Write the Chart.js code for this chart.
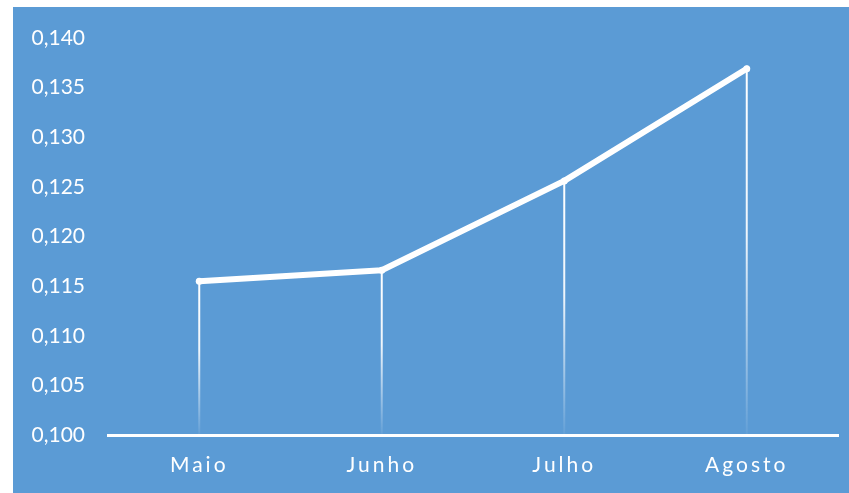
<!DOCTYPE html>
<html>
<head>
<meta charset="utf-8">
<script src="https://cdn.jsdelivr.net/npm/chart.js@4.4.1/dist/chart.umd.min.js"></script>
<style>
  html, body { margin: 0; padding: 0; background: #ffffff; }
  #chartContainer {
    position: absolute;
    left: 13px; top: 7px;
    width: 836px; height: 486px;
    background: #5b9bd5;
  }
</style>
</head>
<body>
<div id="chartContainer"><canvas id="chartCanvas"></canvas></div>
<script>
const months = ['Maio', 'Junho', 'Julho', 'Agosto'];
const rates = [0.1155, 0.1166, 0.1256, 0.1369];
const yTicks = [0.100, 0.105, 0.110, 0.115, 0.120, 0.125, 0.130, 0.135, 0.140];

// vertical lines from each point down to the axis, fading out
const dropLines = {
  id: 'dropLines',
  beforeDatasetsDraw(chart) {
    const ctx = chart.ctx;
    const meta = chart.getDatasetMeta(0);
    const bottom = chart.scales.y.getPixelForValue(yTicks[0]);
    ctx.save();
    meta.data.forEach(pt => {
      const grad = ctx.createLinearGradient(0, pt.y, 0, bottom);
      grad.addColorStop(0, 'rgba(255,255,255,1)');
      grad.addColorStop(0.45, 'rgba(255,255,255,0.9)');
      grad.addColorStop(1, 'rgba(255,255,255,0.05)');
      ctx.strokeStyle = grad;
      ctx.lineWidth = 2;
      ctx.beginPath();
      ctx.moveTo(pt.x, pt.y);
      ctx.lineTo(pt.x, bottom);
      ctx.stroke();
    });
    ctx.restore();
  },
  // x labels are drawn after the datasets (ticks.z: 1), so spacing only hits them
  afterDatasetsDraw(chart) {
    chart.ctx.letterSpacing = '3px';
  },
  afterDraw(chart) {
    chart.ctx.letterSpacing = '0px';
  }
};

const ctx = document.getElementById('chartCanvas').getContext('2d');
const myChart = new Chart(ctx, {
  type: 'line',
  data: {
    labels: months,
    datasets: [{
      data: rates,
      borderColor: '#ffffff',
      backgroundColor: '#ffffff',
      borderWidth: 6,
      borderCapStyle: 'round',
      borderJoinStyle: 'round',
      pointRadius: 3.5,
      pointHoverRadius: 3.5,
      pointBorderWidth: 0,
      tension: 0
    }]
  },
  options: {
    responsive: true,
    maintainAspectRatio: false,
    animation: false,
    layout: { padding: { top: 31, right: 11, left: 0, bottom: 0 } },
    plugins: { legend: { display: false }, tooltip: { enabled: false } },
    scales: {
      x: {
        offset: true,
        grid: { display: false, drawTicks: false },
        border: { display: true, color: '#ffffff', width: 3, z: 1 },
        ticks: { z: 1, color: '#ffffff', font: { family: 'Lato', size: 21 }, padding: 18 },
        afterFit(scale) { scale.height = 58; }
      },
      y: {
        min: 0.1,
        max: 0.14,
        grid: { display: false, drawTicks: false },
        border: { display: false },
        afterBuildTicks(scale) { scale.ticks = yTicks.map(v => ({ value: v })); },
        ticks: {
          color: '#ffffff',
          font: { family: 'Lato', size: 21 },
          padding: 23,
          callback: v => v.toFixed(3).replace('.', ',')
        },
        afterFit(scale) {
          scale.width = 95;
          scale.paddingTop = 0;
          scale.paddingBottom = 0;
        }
      }
    }
  },
  plugins: [dropLines]
});
</script>
</body>
</html>
